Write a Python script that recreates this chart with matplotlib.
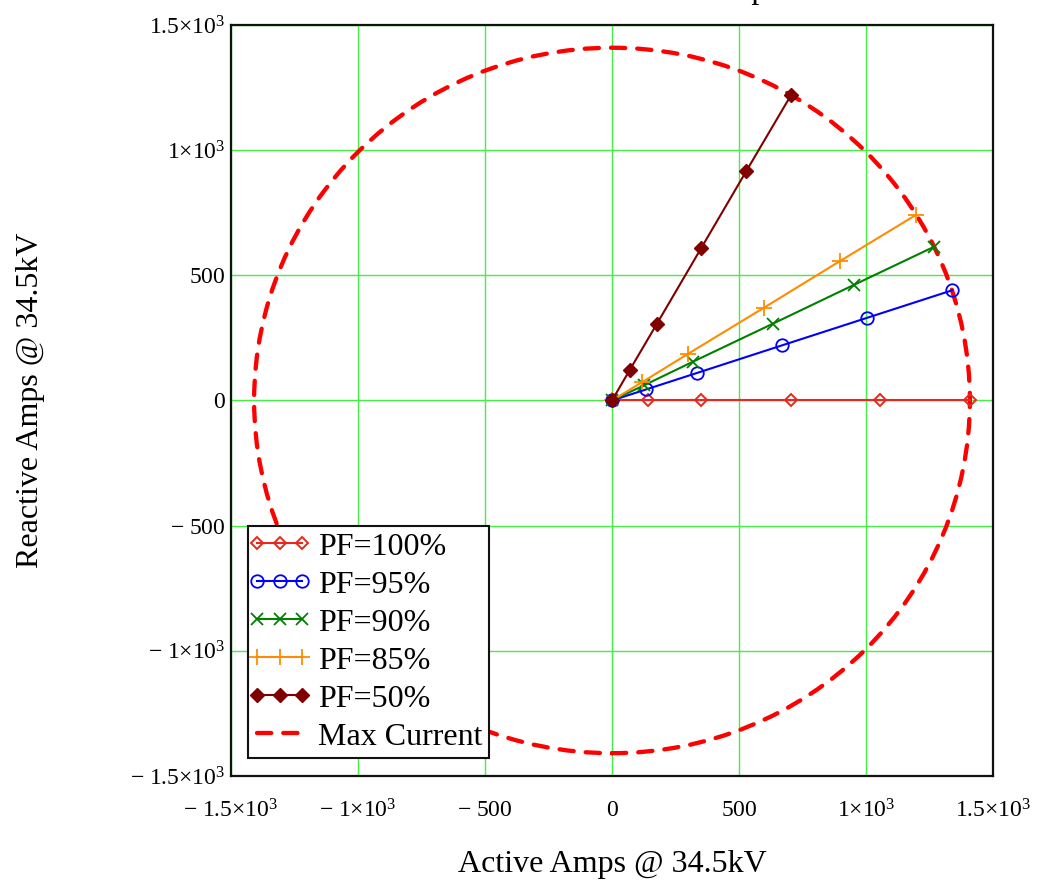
import matplotlib
matplotlib.use("Agg")
import matplotlib.pyplot as plt
from matplotlib.lines import Line2D
from matplotlib.patches import Circle
from matplotlib.legend_handler import HandlerLine2D

plt.rcParams["font.family"] = ["Liberation Serif", "DejaVu Serif"]
plt.rcParams["mathtext.fontset"] = "custom"
plt.rcParams["mathtext.rm"] = "Liberation Serif"
plt.rcParams["mathtext.it"] = "Liberation Serif:italic"

# values (amps @ 34.5kV)
max_current = 1409

pf100_x = [0, 141, 352, 705, 1057, 1409]
pf100_y = [0, 0, 0, 0, 0, 0]
pf95_x = [0, 134, 335, 669, 1004, 1339]
pf95_y = [0, 44, 110, 220, 330, 440]
pf90_x = [0, 127, 317, 634, 951, 1268]
pf90_y = [0, 61, 154, 307, 461, 614]
pf85_x = [0, 120, 299, 599, 898, 1198]
pf85_y = [0, 74, 186, 371, 557, 742]
pf50_x = [0, 70, 176, 352, 528, 705]
pf50_y = [0, 122, 305, 610, 915, 1220]

tick_values = [-1500, -1000, -500, 0, 500, 1000, 1500]
tick_labels = [
    r"$-\ 1.5{\times}10^{3}$",
    r"$-\ 1{\times}10^{3}$",
    r"$-\ 500$",
    r"$0$",
    r"$500$",
    r"$1{\times}10^{3}$",
    r"$1.5{\times}10^{3}$",
]

max_dash = (0, (3.3, 2.8))
max_width = 3.1

fig = plt.figure(figsize=(10.41, 8.85), dpi=100)
ax = fig.add_axes([0.2219, 0.1232, 0.7320, 0.8486])

circle = Circle((0, 0), max_current, fill=False, edgecolor="#ff0000",
                linewidth=max_width, linestyle=max_dash, zorder=3)
circle.set_capstyle("round")
ax.add_patch(circle)

ax.plot(pf100_x, pf100_y, color="#e8281c", linewidth=1.5, marker="D",
        markersize=6.5, markerfacecolor="none", markeredgewidth=1.4,
        label="PF=100%", zorder=4)
ax.plot(pf95_x, pf95_y, color="#0000ff", linewidth=1.5, marker="o",
        markersize=9, markerfacecolor="none", markeredgewidth=1.3,
        label="PF=95%", zorder=4)
ax.plot(pf90_x, pf90_y, color="#008000", linewidth=1.5, marker="x",
        markersize=9, markeredgewidth=1.3, label="PF=90%", zorder=4)
ax.plot(pf85_x, pf85_y, color="#ff8c00", linewidth=1.5, marker="+",
        markersize=11, markeredgewidth=1.3, label="PF=85%", zorder=4)
ax.plot(pf50_x, pf50_y, color="#800000", linewidth=1.5, marker="D",
        markersize=7, label="PF=50%", zorder=4)

circle_handle = Line2D([], [], color="#ff0000", linewidth=max_width,
                       linestyle=max_dash, dash_capstyle="round",
                       label="Max Current")

ax.set_xlim(-1500, 1500)
ax.set_ylim(-1500, 1500)
ax.set_xticks(tick_values)
ax.set_yticks(tick_values)
ax.set_xticklabels(tick_labels)
ax.set_yticklabels(tick_labels)
ax.tick_params(length=0, labelsize=17)
ax.tick_params(axis="y", pad=4)
ax.tick_params(axis="x", pad=17)
ax.grid(True, color="#44ee44", linewidth=1.0)
ax.set_axisbelow(True)
for spine in ax.spines.values():
    spine.set_linewidth(1.6)
    spine.set_color("#111111")

ax.set_xlabel("Active Amps @ 34.5kV", fontsize=23, labelpad=19.5)
ax.set_ylabel("Reactive Amps @ 34.5kV", fontsize=23, labelpad=61)

handles, labels = ax.get_legend_handles_labels()
handles.append(circle_handle)
leg = ax.legend(handles=handles, loc="lower left", bbox_to_anchor=(0.022, 0.024),
                borderaxespad=0, fontsize=23, numpoints=3, handlelength=1.6,
                handletextpad=0.4, labelspacing=0.27, borderpad=0.2,
                fancybox=False, framealpha=1, edgecolor="#111111",
                handler_map={Line2D: HandlerLine2D(marker_pad=0.1)})
leg.get_frame().set_linewidth(1.5)

# title sits mostly above the canvas, only a descender shows
fig.text(767 / 1041, 1 + 2 / 885, "Active vs Reactive Current Map",
         ha="right", va="baseline", fontsize=23)

fig.savefig("out.png", dpi=100)
